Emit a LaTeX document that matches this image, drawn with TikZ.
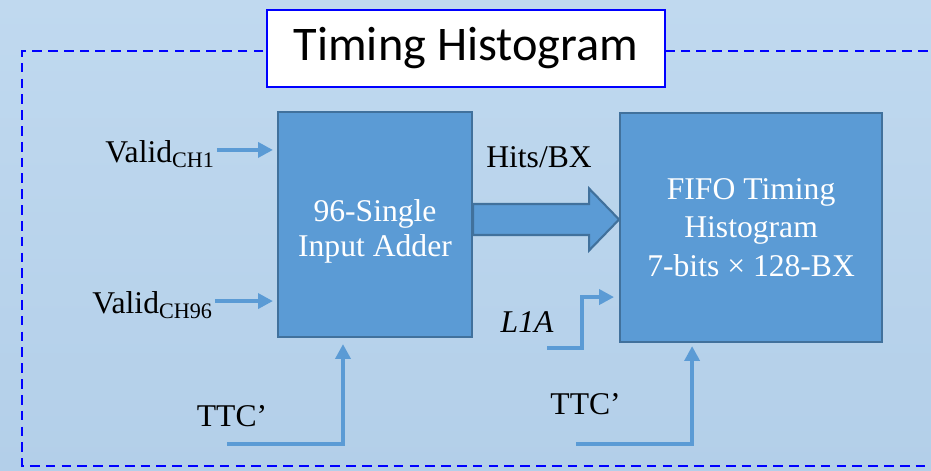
\documentclass[tikz,border=0pt]{standalone}
\usepackage{fontspec}
\setmainfont{Liberation Serif}
\newfontfamily\titlefont{Carlito}
\usetikzlibrary{arrows.meta,positioning,calc}
\definecolor{boxblue}{HTML}{5B9BD5}
\definecolor{boxedge}{HTML}{41719C}
\definecolor{bgtop}{HTML}{C0D9EF}
\definecolor{bgbot}{HTML}{B3CFE9}

\begin{document}
\begin{tikzpicture}[
    >={Triangle[length=8.5pt,width=8.5pt]},
    every node/.style={font=\fontsize{18}{22}\selectfont},
    blk/.style={draw=boxedge, line width=1.2pt, fill=boxblue, text=white, align=center},
    sig/.style={->, draw=boxblue, line width=2.3pt},
    lbl/.style={inner sep=1pt},
    frame/.style={draw=blue, line width=1.1pt, dash pattern=on 5.5pt off 3.5pt},
]
  % background
  \path[use as bounding box, top color=bgtop, bottom color=bgbot] (0,0) rectangle (18.62,9.4);

  % dashed frame and title
  \draw[frame] (19.5,8.38) -- (0.44,8.38) -- (0.44,0.08) -- (19.5,0.08);
  \node[draw=blue, line width=1.2pt, fill=white, minimum width=7.96cm, minimum height=1.54cm,
        font=\titlefont\fontsize{27.5}{32}\selectfont] (title) at (9.32,8.43) {Timing Histogram};

  % blocks
  \node[blk, minimum width=3.88cm, minimum height=4.5cm, font=\fontsize{18}{20}\selectfont] (adder) at (7.5,4.91)
       {\raisebox{-0.15cm}[\height][\depth]{\begin{tabular}{@{}c@{}}96-Single\\Input Adder\end{tabular}}};
  \node[blk, minimum width=5.24cm, minimum height=4.58cm, right=2.92cm of adder, yshift=-0.06cm] (fifo)
       {FIFO Timing\\Histogram\\7-bits × 128-BX};

  % fat arrow between the blocks
  \coordinate (fa) at ($(adder.east)+(0,0.1)$);
  \coordinate (fb) at (fa -| fifo.west);
  \draw[draw=boxedge, line width=1.2pt, fill=boxblue]
    ([yshift=0.31cm]fa) -- ([xshift=-0.6cm,yshift=0.31cm]fb) -- ([xshift=-0.6cm,yshift=0.62cm]fb) -- (fb)
    -- ([xshift=-0.6cm,yshift=-0.62cm]fb) -- ([xshift=-0.6cm,yshift=-0.31cm]fb) -- ([yshift=-0.31cm]fa) -- cycle;
  \node[lbl] (hits) at (10.78,6.26) {Hits/BX};

  % valid inputs
  \coordinate (c1) at ($(adder.north west)+(-1.2,-0.78)$);
  \coordinate (c96) at ($(adder.south west)+(-1.24,0.74)$);
  \node[lbl, anchor=east, yshift=-0.08cm] (v1) at (c1) {Valid\textsubscript{CH1}};
  \node[lbl, anchor=east, yshift=-0.08cm] (v96) at (c96) {Valid\textsubscript{CH96}};
  \draw[sig] (c1) -- ([xshift=-0.08cm]c1 -| adder.west);
  \draw[sig] (c96) -- ([xshift=-0.08cm]c96 -| adder.west);

  % L1A
  \coordinate (l1) at ($(fifo.south west)+(-1.44,-0.1)$);
  \node[lbl, anchor=south east, font=\fontsize{18}{22}\selectfont\itshape] (l1a) at ([xshift=0.17cm,yshift=0.27cm]l1) {L1A};
  \draw[sig] (l1) -- ++(0.7,0) |- ([xshift=-0.1cm,yshift=0.92cm]fifo.south west);

  % TTC'
  \coordinate (t1) at ($(adder.south)+(-2.96,-2.12)$);
  \coordinate (t2) at ($(fifo.south)+(-3.5,-2.02)$);
  \node[lbl, anchor=base] (ttc1) at ([xshift=0.1cm,yshift=0.36cm]t1) {TTC’};
  \node[lbl, anchor=base] (ttc2) at ([xshift=0.19cm,yshift=0.6cm]t2) {TTC’};
  \draw[sig] (t1) -| ([xshift=-0.64cm,yshift=-0.12cm]adder.south);
  \draw[sig] (t2) -| ([xshift=-1.18cm,yshift=-0.06cm]fifo.south);
\end{tikzpicture}
\end{document}
